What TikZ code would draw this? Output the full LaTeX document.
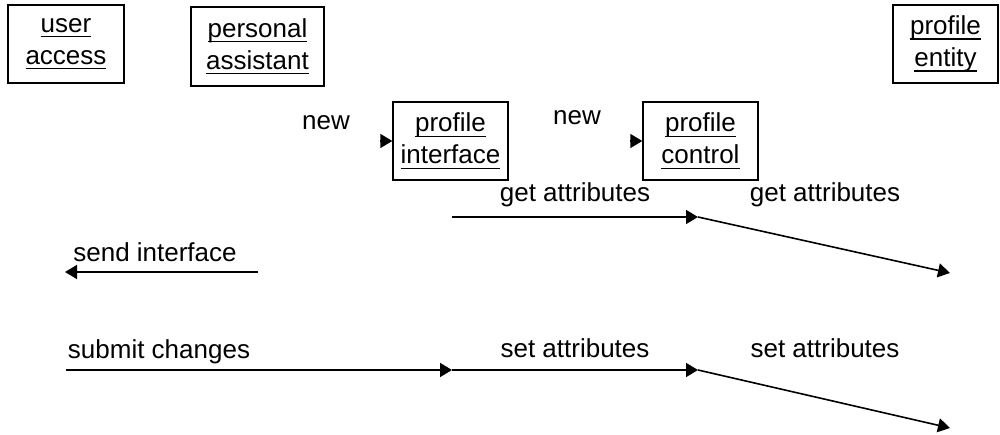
\documentclass[tikz,border=0pt]{standalone}
\usepackage{fontspec}
\setmainfont{Liberation Sans}
\usetikzlibrary{arrows.meta,calc}
% underlined object name
\newcommand{\undr}[1]{\setbox0=\hbox{#1}\rlap{\rule[-5pt]{\wd0}{1.4pt}}\box0}
\begin{document}
\begin{tikzpicture}[x=1pt,y=-1pt,
  obj/.style={draw,line width=1.4pt,align=center,inner sep=0pt,
    font=\fontsize{26}{32}\selectfont},
  lbl/.style={anchor=base,inner sep=0pt,font=\fontsize{26}{31}\selectfont},
  msg/.style={line width=1.6pt,-{Triangle[length=12pt,width=14pt]}}]
\useasboundingbox (0,0) rectangle (1000,435);

% objects
\node[obj,minimum width=116pt,minimum height=78pt] (ua) at (66,44) {\undr{user}\\\undr{access}};
\node[obj,minimum width=133pt,minimum height=79pt] (pa) at (257.5,46.5) {\undr{personal}\\\undr{assistant}};
\node[obj,minimum width=105pt,minimum height=78pt] (pe) at (945.5,44) {\undr{profile}\\\undr{entity}};
\node[obj,minimum width=115pt,minimum height=78pt] (pi) at (450.5,141) {\undr{profile}\\\undr{interface}};
\node[obj,minimum width=115pt,minimum height=78pt] (pc) at (700.5,141) {\undr{profile}\\\undr{control}};

% message end points
\coordinate (n1) at (380,141);
\coordinate (n2) at (630,141);
\coordinate (g1) at (452,217);
\coordinate (g2) at (698,217);
\coordinate (g3) at (950,273);
\coordinate (s1) at (258,272);
\coordinate (s2) at (65,272);
\coordinate (c1) at (66,370);
\coordinate (c2) at (452,370);
\coordinate (c3) at (698,370);
\coordinate (c4) at (950,428);

% creation messages
\draw[msg] (n1) -- (pi.west);
\draw[msg] (n2) -- (pc.west);
\node[lbl] (ln1) at (326,130) {new};
\node[lbl] (ln2) at (577,125) {new};

% get attributes
\draw[msg] (g1) -- (g2);
\draw[msg] (g2) -- (g3);
\node[lbl] (lg1) at (575,202) {get attributes};
\node[lbl] (lg2) at (825,202) {get attributes};

% send interface
\draw[msg] (s1) -- (s2);
\node[lbl] (ls) at (155,262) {send interface};

% submit / set attributes
\draw[msg] (c1) -- (c2);
\draw[msg] (c2) -- (c3);
\draw[msg] (c3) -- (c4);
\node[lbl] (lc) at (159,358) {submit changes};
\node[lbl] (lt1) at (575,357) {set attributes};
\node[lbl] (lt2) at (825,357) {set attributes};
\end{tikzpicture}
\end{document}
